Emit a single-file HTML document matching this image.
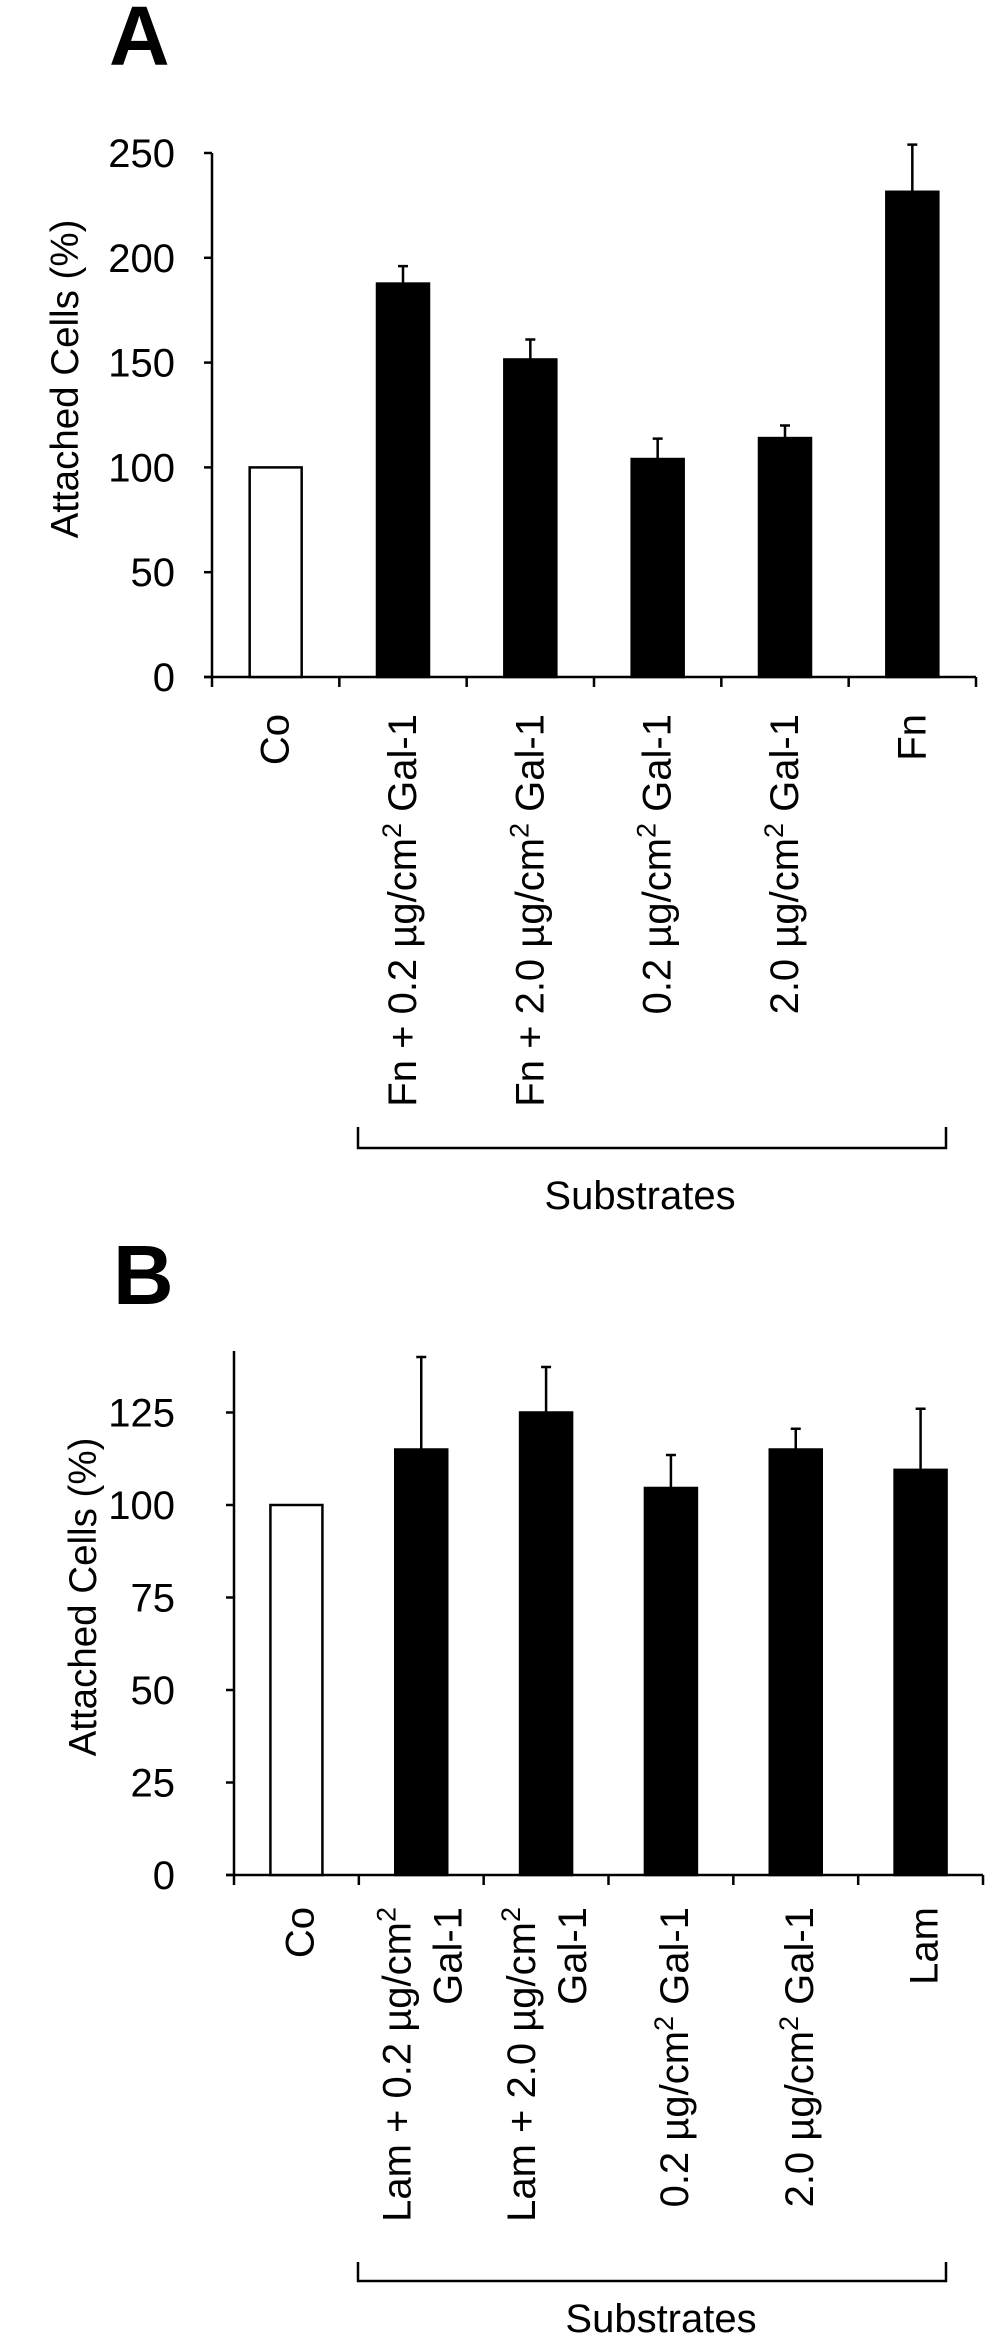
<!DOCTYPE html>
<html><head><meta charset="utf-8"><style>
html,body{margin:0;padding:0;background:#fff;}
svg{display:block;font-family:"Liberation Sans",Arial,sans-serif;}
</style></head><body>
<svg id="fig" width="995" height="2349" viewBox="0 0 995 2349" xmlns="http://www.w3.org/2000/svg">
<text x="109" y="65" font-size="84" font-weight="bold">A</text>
<text x="113" y="1304" font-size="84" font-weight="bold">B</text>
</svg>
<script>
// Panel A data
const catsA = ["Co", "Fn + 0.2 µg/cm² Gal-1", "Fn + 2.0 µg/cm² Gal-1", "0.2 µg/cm² Gal-1", "2.0 µg/cm² Gal-1", "Fn"];
const valsA = [100, 187.7, 151.5, 104, 114, 231.5];
const errA = [0, 8.3, 9.5, 9.7, 6, 22.5];
const ticksA = [0, 50, 100, 150, 200, 250];
// Panel B data
const catsB = ["Co", "Lam + 0.2 µg/cm²|Gal-1", "Lam + 2.0 µg/cm²|Gal-1", "0.2 µg/cm² Gal-1", "2.0 µg/cm² Gal-1", "Lam"];
const valsB = [100, 115, 125, 104.6, 115, 109.5];
const errB = [0, 25, 12.3, 8.9, 5.6, 16.5];
const ticksB = [0, 25, 50, 75, 100, 125];

const NS = "http://www.w3.org/2000/svg";
const svg = document.getElementById('fig');
function mk(tag, attrs, parent) {
  const e = document.createElementNS(NS, tag);
  for (const k in attrs) e.setAttribute(k, attrs[k]);
  (parent || svg).appendChild(e);
  return e;
}
function addLabel(g, txt, x, y) {
  const t = mk('text', {x: x, y: y, 'font-size': 40, 'text-anchor': 'end', transform: 'rotate(-90 ' + x + ' ' + y + ')'}, g);
  
  
  const parts = txt.split('²');
  parts.forEach((p, i) => {
    const s = mk('tspan', {}, t); s.textContent = p;
    if (i < parts.length - 1) {
      const sp = mk('tspan', {'baseline-shift': 'super', 'font-size': 27}, t); sp.textContent = '2';
    }
  });
}
function panel(cfg) {
  const g = mk('g', {});
  
  
  const y = v => cfg.y0 - (v - 0) * (cfg.y0 - cfg.yTop) / (cfg.vTop);
  const n = cfg.cats.length;
  const step = (cfg.xEnd - cfg.x0) / n;
  const cx = i => cfg.x0 + step * (i + 0.5);
  // axes
  const ya = mk('line', {x1: cfg.x0, y1: cfg.axisTop, x2: cfg.x0, y2: cfg.y0, stroke: '#000', 'stroke-width': 2.5}, g);
   
  const xa = mk('line', {x1: cfg.x0 - 8, y1: cfg.y0, x2: cfg.xEnd, y2: cfg.y0, stroke: '#000', 'stroke-width': 2.5}, g);
   
  cfg.ticks.forEach(t => {
    mk('line', {x1: cfg.x0 - 8, y1: y(t), x2: cfg.x0, y2: y(t), stroke: '#000', 'stroke-width': 2.5}, g);
    const tl = mk('text', {x: 175, y: y(t) + 14, 'font-size': 40, 'text-anchor': 'end'}, g);
     
    tl.textContent = t;
  });
  for (let i = 0; i <= n; i++) {
    const xx = cfg.x0 + step * i;
    mk('line', {x1: xx, y1: cfg.y0, x2: xx, y2: cfg.y0 + 10, stroke: '#000', 'stroke-width': 2.5}, g);
  }
  const ttl = mk('text', {x: cfg.titleX, y: cfg.titleY, 'font-size': 38.5, 'text-anchor': 'middle', transform: 'rotate(-90 ' + cfg.titleX + ' ' + cfg.titleY + ')'}, g);
   
  ttl.textContent = 'Attached Cells (%)';
  cfg.vals.forEach((v, i) => {
    const bw = 52;
    const r = mk('rect', {x: cx(i) - bw / 2, y: y(v), width: bw, height: cfg.y0 - y(v), fill: i === 0 ? '#fff' : '#000', stroke: '#000', 'stroke-width': 2.5}, g);
    
    
    if (cfg.err[i] > 0) {
      const e = mk('path', {d: 'M' + cx(i) + ' ' + y(v) + 'V' + y(v + cfg.err[i]) + 'M' + (cx(i) - 5) + ' ' + y(v + cfg.err[i]) + 'H' + (cx(i) + 5), stroke: '#000', 'stroke-width': 2.5, fill: 'none'}, g);
      
      
    }
    const lines = cfg.cats[i].split('|');
    if (lines.length === 1) addLabel(g, lines[0], cx(i) + cfg.lblOff, cfg.lblTop);
    else { addLabel(g, lines[0], cx(i) - 11, cfg.lblTop); addLabel(g, lines[1], cx(i) + 40, cfg.lblTop); }
  });
  const br = mk('path', {d: 'M' + cfg.brX1 + ' ' + cfg.brTop + 'V' + cfg.brY + 'H' + cfg.brX2 + 'V' + cfg.brTop, stroke: '#000', 'stroke-width': 2.5, fill: 'none'}, g);
   
  const st = mk('text', {x: cfg.subX, y: cfg.subY, 'font-size': 40, 'text-anchor': 'middle'}, g);
   
  st.textContent = 'Substrates';
}
panel({name: 'panel-a-chart', cats: catsA, vals: valsA, err: errA, ticks: ticksA,
  x0: 212, xEnd: 976, y0: 677, yTop: 153, vTop: 250, axisTop: 153,
  titleX: 78, titleY: 379, lblOff: 13, lblTop: 714,
  brX1: 358, brX2: 946, brTop: 1127, brY: 1148, subX: 640, subY: 1209});
panel({name: 'panel-b-chart', cats: catsB, vals: valsB, err: errB, ticks: ticksB,
  x0: 234, xEnd: 983, y0: 1875, yTop: 1412.5, vTop: 125, axisTop: 1351,
  titleX: 96, titleY: 1597, lblOff: 17, lblTop: 1907,
  brX1: 358, brX2: 946, brTop: 2262, brY: 2281, subX: 661, subY: 2332});
</script>
</body></html>
